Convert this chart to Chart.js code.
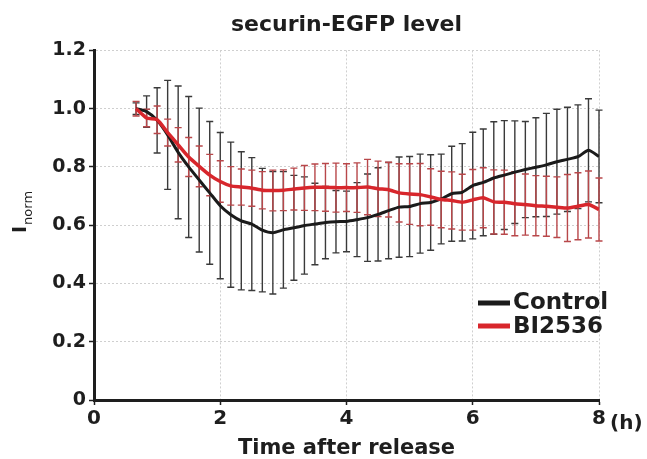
<!DOCTYPE html>
<html>
<head>
<meta charset="utf-8">
<script src="https://cdn.jsdelivr.net/npm/chart.js@4.4.1/dist/chart.umd.min.js"></script>
<style>
  html, body { margin: 0; padding: 0; background: #fff; }
</style>
</head>
<body>
<canvas id="myChart" width="647" height="459"></canvas>
<script>
// time after release, minutes (one point every 10 min)
const timeMin = [
    40, 50, 60, 70, 80, 90, 100, 110, 120,
    130, 140, 150, 160, 170, 180, 190, 200, 210,
    220, 230, 240, 250, 260, 270, 280, 290, 300,
    310, 320, 330, 340, 350, 360, 370, 380, 390,
    400, 410, 420, 430, 440, 450, 460, 470, 480
];

const controlMean = [
    1.000, 0.990, 0.960, 0.910, 0.850, 0.800, 0.755, 0.711, 0.667,
    0.636, 0.615, 0.604, 0.583, 0.574, 0.584, 0.591, 0.599, 0.604,
    0.609, 0.612, 0.613, 0.619, 0.626, 0.637, 0.650, 0.662, 0.664,
    0.674, 0.678, 0.690, 0.708, 0.713, 0.736, 0.747, 0.762, 0.772,
    0.782, 0.791, 0.799, 0.807, 0.818, 0.826, 0.835, 0.857, 0.836
];
const controlErr = [
    0.020, 0.054, 0.112, 0.187, 0.228, 0.242, 0.247, 0.245, 0.251,
    0.249, 0.237, 0.228, 0.212, 0.210, 0.200, 0.180, 0.167, 0.140,
    0.124, 0.107, 0.104, 0.127, 0.150, 0.160, 0.165, 0.172, 0.172,
    0.170, 0.164, 0.154, 0.163, 0.167, 0.183, 0.183, 0.193, 0.187,
    0.176, 0.165, 0.170, 0.177, 0.180, 0.179, 0.178, 0.177, 0.159
];

const biMean = [
    1.000, 0.968, 0.962, 0.918, 0.876, 0.834, 0.802, 0.772, 0.750,
    0.735, 0.731, 0.727, 0.720, 0.719, 0.720, 0.724, 0.728, 0.730,
    0.730, 0.729, 0.729, 0.729, 0.731, 0.725, 0.722, 0.711, 0.707,
    0.705, 0.697, 0.688, 0.685, 0.679, 0.687, 0.694, 0.680, 0.679,
    0.674, 0.671, 0.667, 0.665, 0.662, 0.659, 0.665, 0.671, 0.654
];
const biErr = [
    0.025, 0.030, 0.047, 0.046, 0.059, 0.067, 0.070, 0.071, 0.071,
    0.066, 0.062, 0.062, 0.064, 0.070, 0.070, 0.072, 0.077, 0.080,
    0.082, 0.084, 0.082, 0.085, 0.095, 0.095, 0.094, 0.100, 0.104,
    0.107, 0.097, 0.097, 0.098, 0.096, 0.104, 0.103, 0.110, 0.110,
    0.110, 0.105, 0.103, 0.103, 0.104, 0.115, 0.115, 0.115, 0.108
];

const seriesLabels = ['Control', 'BI2536'];
const lineColors = ['#1b1b1b', '#d8262c'];
const barColors = ['#3a3a3a', '#b8474a'];
const errors = [controlErr, biErr];

const FONT = 'DejaVu Sans';

const toPoints = (means) => means.map((v, i) => ({ x: timeMin[i] / 60, y: v }));

// whiskers drawn under the lines, through the chart scales
const errorBars = {
    id: 'errorBars',
    beforeDatasetsDraw(chart) {
        const { ctx, scales: { x, y } } = chart;
        ctx.save();
        ctx.lineWidth = 1.4;
        chart.data.datasets.forEach((ds, d) => {
            ctx.strokeStyle = barColors[d];
            ds.data.forEach((p, i) => {
                const px = x.getPixelForValue(p.x);
                const top = y.getPixelForValue(p.y + errors[d][i]);
                const bot = y.getPixelForValue(p.y - errors[d][i]);
                ctx.beginPath();
                ctx.moveTo(px, top); ctx.lineTo(px, bot);
                ctx.moveTo(px - 3.5, top); ctx.lineTo(px + 3.5, top);
                ctx.moveTo(px - 3.5, bot); ctx.lineTo(px + 3.5, bot);
                ctx.stroke();
            });
        });
        ctx.restore();
    }
};

// y title with subscript, legend box and the "(h)" unit
const extras = {
    id: 'extras',
    afterDraw(chart) {
        const { ctx, chartArea, scales: { x } } = chart;
        ctx.save();
        ctx.fillStyle = '#1e1e1e';

        // I_norm
        ctx.translate(26, 233);
        ctx.rotate(-Math.PI / 2);
        ctx.textAlign = 'left';
        ctx.textBaseline = 'alphabetic';
        ctx.font = `bold 19px "${FONT}"`;
        ctx.fillText('I', 0, 0);
        const w = ctx.measureText('I').width;
        ctx.font = `13px "${FONT}"`;
        ctx.fillText('norm', w + 1, 6);
        ctx.setTransform(1, 0, 0, 1, 0, 0);

        // (h)
        ctx.font = `bold 20px "${FONT}"`;
        ctx.textBaseline = 'alphabetic';
        ctx.fillText('(h)', x.getPixelForValue(8) + 11, 429);

        // legend
        const lx = chartArea.right - 121;
        ctx.font = `bold 23px "${FONT}"`;
        seriesLabels.forEach((lab, i) => {
            const yy = 303 + i * 23;
            ctx.strokeStyle = lineColors[i];
            ctx.lineWidth = 5;
            ctx.beginPath();
            ctx.moveTo(lx, yy); ctx.lineTo(lx + 32, yy);
            ctx.stroke();
            ctx.fillText(lab, lx + 35, yy + 5.5 + i * 1);
        });
        ctx.restore();
    }
};

const tickFont = { family: FONT, weight: 'bold', size: 19 };

new Chart(document.getElementById('myChart'), {
    type: 'line',
    data: {
        datasets: [
            {
                label: seriesLabels[0],
                data: toPoints(controlMean),
                borderColor: lineColors[0],
                borderWidth: 3,
                pointRadius: 0,
                tension: 0.2,
                order: 2,
            },
            {
                label: seriesLabels[1],
                data: toPoints(biMean),
                borderColor: lineColors[1],
                borderWidth: 3.5,
                pointRadius: 0,
                tension: 0.2,
                order: 1,
            }
        ]
    },
    options: {
        responsive: false,
        animation: false,
        layout: { padding: { left: 0, right: 48, top: 0, bottom: 0 } },
        plugins: {
            legend: { display: false },
            tooltip: { enabled: false },
            title: {
                display: true,
                fullSize: false,
                text: 'securin-EGFP level',
                color: '#1e1e1e',
                font: { family: FONT, size: 22, weight: 'bold', lineHeight: 1.2 },
                padding: { top: 12, bottom: 12 },
            },
        },
        scales: {
            x: {
                type: 'linear',
                min: 0,
                max: 8,
                afterFit: (scale) => { scale.height = 59; },
                ticks: {
                    stepSize: 2,
                    color: '#1e1e1e',
                    font: { family: FONT, weight: 'bold', size: 20 },
                    padding: 2,
                    maxRotation: 0,
                },
                grid: {
                    color: '#cfcfcf',
                    lineWidth: 1,
                    tickColor: '#1e1e1e',
                    tickLength: 5,
                    tickWidth: 1.5,
                    tickBorderDash: [],
                },
                border: { display: true, color: '#1e1e1e', width: 3, dash: [2, 2] },
                title: {
                    display: true,
                    text: 'Time after release',
                    color: '#1e1e1e',
                    font: { family: FONT, size: 21, weight: 'bold', lineHeight: 1.0 },
                    padding: { top: 0, bottom: 0 },
                },
            },
            y: {
                min: 0,
                max: 1.2,
                afterFit: (scale) => { scale.width = 94; },
                ticks: {
                    stepSize: 0.2,
                    color: '#1e1e1e',
                    font: tickFont,
                    padding: 3,
                    callback: (val) => val === 0 ? '0' : val.toFixed(1),
                },
                grid: {
                    color: '#cfcfcf',
                    lineWidth: 1,
                    tickColor: '#1e1e1e',
                    tickLength: 5,
                    tickWidth: 1.5,
                    tickBorderDash: [],
                },
                border: { display: true, color: '#1e1e1e', width: 3, dash: [2, 2] },
            }
        }
    },
    plugins: [errorBars, extras]
});
</script>
</body>
</html>
